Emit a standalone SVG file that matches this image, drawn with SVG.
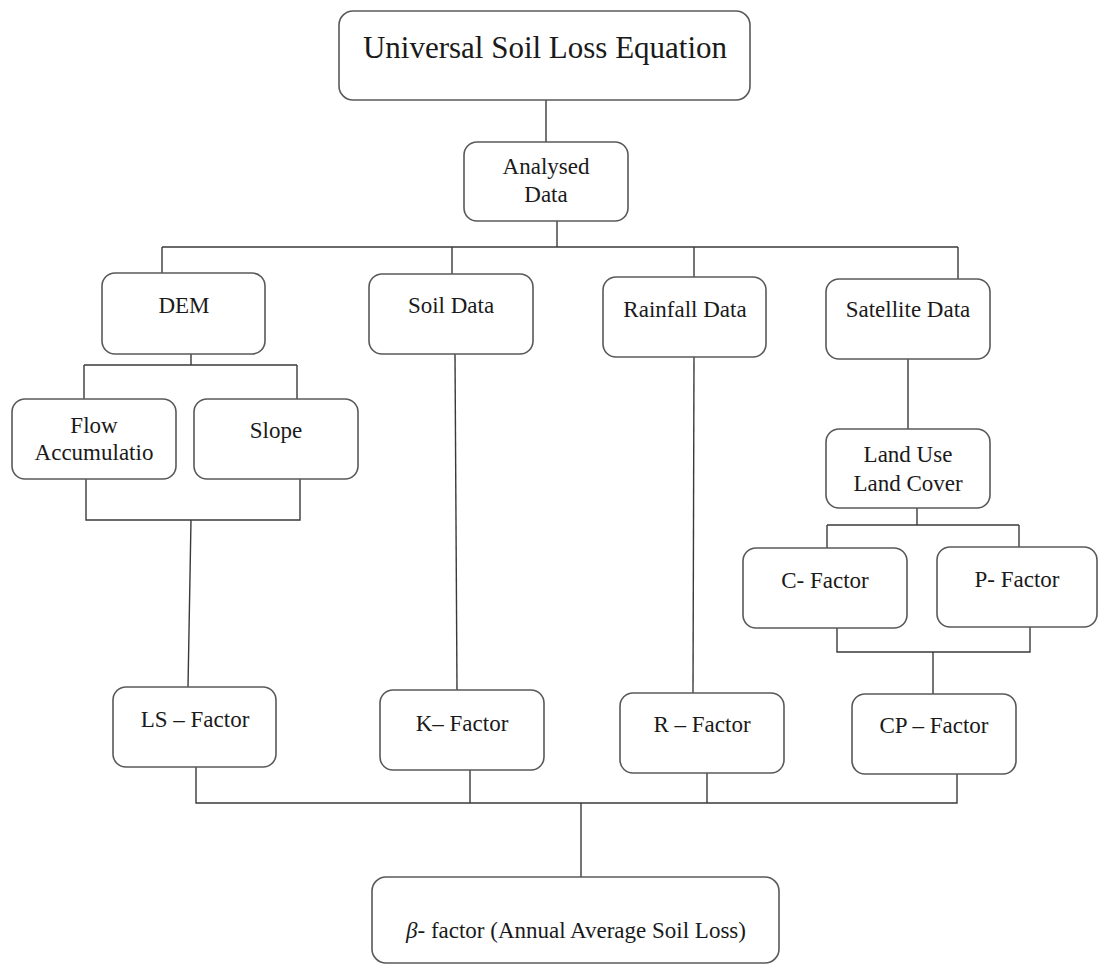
<svg xmlns="http://www.w3.org/2000/svg" width="1098" height="965" viewBox="0 0 1098 965">
<style>
.box{fill:#fff;stroke:#595959;stroke-width:1.6}
.t{font-size:23px;fill:#1a1a1a;text-anchor:middle}
.c{fill:none;stroke:#3a3a3a;stroke-width:1.4}
</style>
<rect width="1098" height="965" fill="#fff"/>
<g id="connectors" class="c">
<path d="M546 100V142"/>
<path d="M557 221V247M162 247H958M162 247V273M452 247V274M694 247V277M958 247V279"/>
<path d="M191 354V365M84 365H297M84 365V399M297 365V399"/>
<path d="M86 479V520H300V479M191 520L188 687"/>
<path d="M455 354L457 690"/>
<path d="M694 357L693 693"/>
<path d="M908 359V429"/>
<path d="M917 508V525M827 525H1019M827 525V548M1019 525V547"/>
<path d="M837 628V652H1030V627M933 652V694"/>
<path d="M196 767V803H957V774M470 770V803M707 773V803M581 803V877"/>
</g>
<g id="nodes" font-family="Liberation Serif, Times New Roman, Tinos, serif">
<g id="usle"><rect class="box" x="339" y="11" width="411" height="89" rx="14"/><text class="t" x="545" y="58" style="font-size:31px">Universal Soil Loss Equation</text></g>
<g id="analysed"><rect class="box" x="464" y="142" width="164" height="79" rx="13"/><text class="t" x="546" y="174">Analysed</text><text class="t" x="546" y="202">Data</text></g>
<g id="dem"><rect class="box" x="102" y="273" width="163" height="81" rx="13"/><text class="t" x="184" y="313">DEM</text></g>
<g id="soil"><rect class="box" x="369" y="274" width="164" height="80" rx="13"/><text class="t" x="451" y="313">Soil Data</text></g>
<g id="rainfall"><rect class="box" x="603" y="277" width="163" height="80" rx="13"/><text class="t" x="685" y="317">Rainfall Data</text></g>
<g id="satellite"><rect class="box" x="826" y="279" width="164" height="80" rx="13"/><text class="t" x="908" y="317">Satellite Data</text></g>
<g id="flow"><rect class="box" x="12" y="399" width="164" height="80" rx="13"/><text class="t" x="94" y="433">Flow</text><text class="t" x="94" y="460">Accumulatio</text></g>
<g id="slope"><rect class="box" x="194" y="399" width="164" height="80" rx="13"/><text class="t" x="276" y="438">Slope</text></g>
<g id="lulc"><rect class="box" x="826" y="429" width="164" height="79" rx="13"/><text class="t" x="908" y="462">Land Use</text><text class="t" x="908" y="491">Land Cover</text></g>
<g id="cfactor"><rect class="box" x="743" y="548" width="164" height="80" rx="13"/><text class="t" x="825" y="588">C- Factor</text></g>
<g id="pfactor"><rect class="box" x="937" y="547" width="160" height="80" rx="13"/><text class="t" x="1017" y="587">P- Factor</text></g>
<g id="ls"><rect class="box" x="113" y="687" width="163" height="80" rx="13"/><text class="t" x="195" y="727">LS – Factor</text></g>
<g id="k"><rect class="box" x="380" y="690" width="164" height="80" rx="13"/><text class="t" x="462" y="731">K– Factor</text></g>
<g id="r"><rect class="box" x="620" y="693" width="164" height="80" rx="13"/><text class="t" x="702" y="732">R – Factor</text></g>
<g id="cp"><rect class="box" x="852" y="694" width="164" height="80" rx="13"/><text class="t" x="934" y="733">CP – Factor</text></g>
<g id="beta"><rect class="box" x="372" y="877" width="407" height="86" rx="14"/><text class="t" x="576" y="938"><tspan font-style="italic">β</tspan>- factor (Annual Average Soil Loss)</text></g>
</g>
</svg>
